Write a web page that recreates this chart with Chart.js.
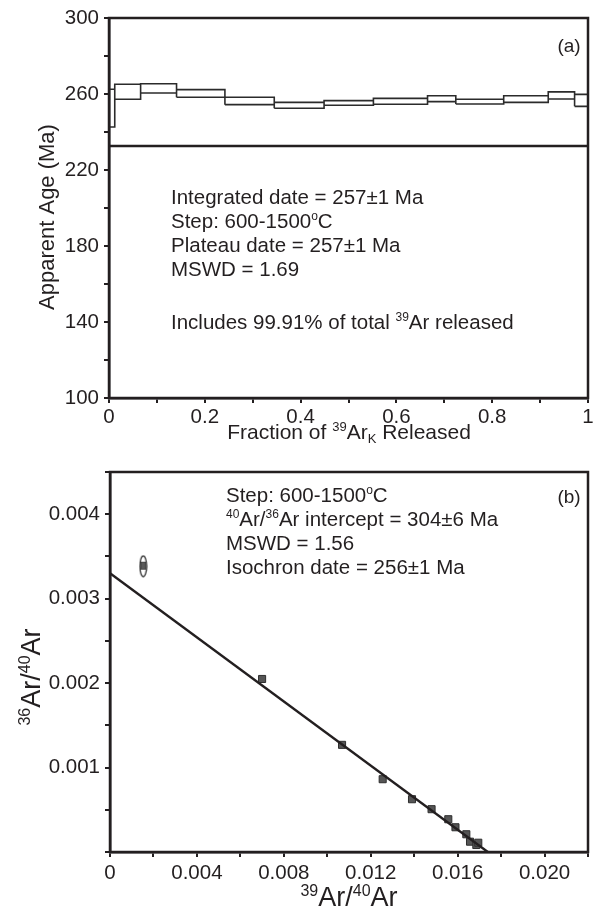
<!DOCTYPE html>
<html>
<head>
<meta charset="utf-8">
<script src="https://cdn.jsdelivr.net/npm/chart.js@4/dist/chart.umd.min.js"></script>
<style>
  html, body { margin: 0; padding: 0; background: #fff; }
  body { width: 595px; height: 910px; position: relative; overflow: hidden; }
  canvas { position: absolute; left: 0; }
  #ca { top: 0; }
  #cb { top: 440px; }
</style>
</head>
<body>
<canvas id="ca" width="595" height="455"></canvas>
<canvas id="cb" width="595" height="470"></canvas>
<script>
// ---------- DATA ----------
// (a) age spectrum
const stepEdges = [0, 0.012, 0.066, 0.141, 0.242, 0.345, 0.449, 0.552, 0.665, 0.724, 0.824, 0.917, 0.972, 1.0];
const ageHigh   = [262.5, 265.1, 265.4, 262.3, 258.3, 255.6, 256.5, 257.7, 259.1, 257.2, 259.1, 261.1, 259.8];
const ageLow    = [242.6, 257.2, 260.5, 258.3, 254.4, 252.5, 254.1, 254.6, 256.0, 254.7, 255.6, 257.4, 253.5];
const refLineAge = 232.6;
const ageTicksLabelled = [100, 140, 180, 220, 260, 300];
const fracTicksLabelled = ['0', '0.2', '0.4', '0.6', '0.8', '1'];

// (b) isochron
const isoX = [0.0070, 0.01068, 0.01255, 0.0139, 0.0148, 0.01557, 0.0159, 0.0164, 0.01657, 0.01686, 0.01695];
const isoY = [0.002049, 0.001269, 0.000862, 0.000625, 0.000507, 0.000388, 0.000293, 0.00021, 0.000122, 0.000083, 0.00011];
const excludedX = [0.00153];
const excludedY = [0.003384];
const isoLineX = [0, 0.01739];
const isoLineY = [0.0033, 0];
const ratioTicksLabelled = ['0.001', '0.002', '0.003', '0.004'];
const isoXTicksLabelled = ['0', '0.004', '0.008', '0.012', '0.016', '0.020'];

// ---------- helpers ----------
const FONT = "'Liberation Sans', Arial, Helvetica, sans-serif";
const INK = '#231f20';
const TICK_FONT = 20.5;
const NOTE_FONT = 20.5;

function drawRich(ctx, x, y, parts, size, align) {
  const widths = parts.map(([t, k]) => {
    ctx.font = (k ? Math.round(size * 0.6) : size) + 'px ' + FONT;
    return ctx.measureText(t).width;
  });
  const total = widths.reduce((a, b) => a + b, 0);
  let cx = align === 'center' ? x - total / 2 : (align === 'right' ? x - total : x);
  ctx.textBaseline = 'alphabetic';
  ctx.textAlign = 'left';
  parts.forEach(([t, k], i) => {
    ctx.font = (k ? Math.round(size * 0.6) : size) + 'px ' + FONT;
    let dy = 0;
    if (k === 'sup') dy = -size * 0.38;
    if (k === 'sub') dy = size * 0.2;
    ctx.fillText(t, cx, y + dy);
    cx += widths[i];
  });
}

function framePlugin(id) {
  return {
    id: id,
    afterDatasetsDraw(chart) {
      const a = chart.chartArea, ctx = chart.ctx;
      ctx.save();
      ctx.strokeStyle = INK;
      ctx.lineWidth = 2.5;
      ctx.strokeRect(a.left, a.top, a.right - a.left, a.bottom - a.top);
      ctx.restore();
    }
  };
}

function fixX(h) {
  return function (s) { s.height = h; s.paddingLeft = 0; s.paddingRight = 0; };
}
function fixY(w) {
  return function (s) { s.width = w; s.paddingTop = 0; s.paddingBottom = 0; };
}

// ---------- chart (a) ----------
const boxData = [];
for (let i = 0; i < ageHigh.length; i++) {
  const x0 = stepEdges[i], x1 = stepEdges[i + 1];
  boxData.push({x: x0, y: ageLow[i]}, {x: x0, y: ageHigh[i]}, {x: x1, y: ageHigh[i]},
               {x: x1, y: ageLow[i]}, {x: x0, y: ageLow[i]}, {x: null, y: null});
}

const textA = {
  id: 'textA',
  afterDraw(chart) {
    const ctx = chart.ctx;
    ctx.save();
    ctx.fillStyle = INK;
    const s = NOTE_FONT;
    drawRich(ctx, 171, 204, [['Integrated date = 257\u00B11 Ma', null]], s, 'left');
    drawRich(ctx, 171, 228, [['Step: 600-1500', null], ['o', 'sup'], ['C', null]], s, 'left');
    drawRich(ctx, 171, 252, [['Plateau date = 257\u00B11 Ma', null]], s, 'left');
    drawRich(ctx, 171, 276, [['MSWD = 1.69', null]], s, 'left');
    drawRich(ctx, 171, 329, [['Includes 99.91% of total ', null], ['39', 'sup'], ['Ar released', null]], s, 'left');
    drawRich(ctx, 569, 52, [['(a)', null]], 19, 'center');
    // x title
    drawRich(ctx, 349, 439, [['Fraction of ', null], ['39', 'sup'], ['Ar', null], ['K', 'sub'], [' Released', null]], 21, 'center');
    // y title
    ctx.translate(54, 217);
    ctx.rotate(-Math.PI / 2);
    drawRich(ctx, 0, 0, [['Apparent Age (Ma)', null]], 22, 'center');
    ctx.restore();
  }
};

new Chart(document.getElementById('ca'), {
  type: 'scatter',
  data: {
    datasets: [
      {
        data: boxData, showLine: true, spanGaps: false, borderColor: '#2b2b2b', borderWidth: 1.6,
        pointRadius: 0, fill: false, tension: 0
      },
      {
        data: [{x: 0, y: refLineAge}, {x: 1, y: refLineAge}], showLine: true,
        borderColor: INK, borderWidth: 2.6, pointRadius: 0, fill: false
      }
    ]
  },
  options: {
    responsive: false, animation: false, devicePixelRatio: 1,
    layout: {autoPadding: false, padding: {top: 18, right: 7, left: 0, bottom: 0}},
    plugins: {legend: {display: false}, tooltip: {enabled: false}},
    scales: {
      x: {
        type: 'linear', min: 0, max: 1,
        afterFit: fixX(455 - 398),
        grid: {drawOnChartArea: false, drawTicks: true, tickLength: 5, color: INK, lineWidth: 2},
        border: {display: true, color: INK, width: 2.5},
        ticks: {
          stepSize: 0.1, autoSkip: false, maxRotation: 0, padding: 2, color: INK,
          font: {family: FONT, size: TICK_FONT},
          callback(v) {
            const k = Math.round(v * 10);
            return k % 2 === 0 ? fracTicksLabelled[k / 2] : '';
          }
        }
      },
      y: {
        type: 'linear', min: 100, max: 300,
        afterFit: fixY(109),
        grid: {drawOnChartArea: false, drawTicks: true, tickLength: 5, color: INK, lineWidth: 2},
        border: {display: true, color: INK, width: 2.5},
        ticks: {
          stepSize: 20, autoSkip: false, padding: 5, color: INK,
          font: {family: FONT, size: TICK_FONT},
          callback(v) { return ageTicksLabelled.includes(Math.round(v)) ? String(Math.round(v)) : ''; }
        }
      }
    }
  },
  plugins: [framePlugin('frameA'), textA]
});

// ---------- chart (b) ----------
function ellipseMarker() {
  const c = document.createElement('canvas');
  c.width = 9; c.height = 23;
  const g = c.getContext('2d');
  g.strokeStyle = '#2b2b2b';
  g.lineWidth = 1.2;
  g.beginPath();
  g.ellipse(4.5, 11.5, 3.4, 10.3, 0, 0, Math.PI * 2);
  g.stroke();
  g.fillStyle = '#5a5a5a';
  g.fillRect(2, 7.5, 5, 7);
  g.strokeStyle = '#333';
  g.lineWidth = 0.8;
  g.strokeRect(2, 7.5, 5, 7);
  return c;
}

const textB = {
  id: 'textB',
  afterDraw(chart) {
    const ctx = chart.ctx;
    ctx.save();
    ctx.fillStyle = INK;
    const s = NOTE_FONT;
    drawRich(ctx, 226, 62, [['Step: 600-1500', null], ['o', 'sup'], ['C', null]], s, 'left');
    drawRich(ctx, 226, 86, [['40', 'sup'], ['Ar/', null], ['36', 'sup'], ['Ar intercept = 304\u00B16 Ma', null]], s, 'left');
    drawRich(ctx, 226, 110, [['MSWD = 1.56', null]], s, 'left');
    drawRich(ctx, 226, 134, [['Isochron date = 256\u00B11 Ma', null]], s, 'left');
    drawRich(ctx, 569, 63, [['(b)', null]], 19, 'center');
    // x title
    drawRich(ctx, 349, 466, [['39', 'sup'], ['Ar/', null], ['40', 'sup'], ['Ar', null]], 27, 'center');
    // y title
    ctx.translate(40, 237);
    ctx.rotate(-Math.PI / 2);
    drawRich(ctx, 0, 0, [['36', 'sup'], ['Ar/', null], ['40', 'sup'], ['Ar', null]], 27, 'center');
    ctx.restore();
  }
};

new Chart(document.getElementById('cb'), {
  type: 'scatter',
  data: {
    datasets: [
      {
        data: isoLineX.map((x, i) => ({x, y: isoLineY[i]})), showLine: true,
        borderColor: INK, borderWidth: 2.4, pointRadius: 0, fill: false
      },
      {
        data: isoX.map((x, i) => ({x, y: isoY[i]})),
        pointStyle: 'rect', pointRadius: 5, backgroundColor: '#555555',
        borderColor: '#2e2e2e', borderWidth: 1
      },
      {
        data: excludedX.map((x, i) => ({x, y: excludedY[i]})),
        pointStyle: ellipseMarker(), pointRadius: 10
      }
    ]
  },
  options: {
    responsive: false, animation: false, devicePixelRatio: 1,
    layout: {autoPadding: false, padding: {top: 32, right: 7, left: 0, bottom: 0}},
    plugins: {legend: {display: false}, tooltip: {enabled: false}},
    scales: {
      x: {
        type: 'linear', min: 0, max: 0.022,
        afterFit: fixX(58),
        grid: {drawOnChartArea: false, drawTicks: true, tickLength: 5, color: INK, lineWidth: 2},
        border: {display: true, color: INK, width: 2.5},
        ticks: {
          stepSize: 0.002, autoSkip: false, maxRotation: 0, padding: 4, color: INK,
          font: {family: FONT, size: TICK_FONT},
          callback(v) {
            const k = Math.round(v * 500);
            return k % 2 === 0 ? isoXTicksLabelled[k / 2] : '';
          }
        }
      },
      y: {
        type: 'linear', min: 0, max: 0.0045,
        afterFit: fixY(110),
        grid: {drawOnChartArea: false, drawTicks: true, tickLength: 5, color: INK, lineWidth: 2},
        border: {display: true, color: INK, width: 2.5},
        ticks: {
          stepSize: 0.0005, autoSkip: false, padding: 5, color: INK,
          font: {family: FONT, size: TICK_FONT},
          callback(v) {
            const k = Math.round(v * 2000);
            return (k % 2 === 0 && k > 0) ? ratioTicksLabelled[k / 2 - 1] : '';
          }
        }
      }
    }
  },
  plugins: [framePlugin('frameB'), textB]
});
</script>
</body>
</html>
